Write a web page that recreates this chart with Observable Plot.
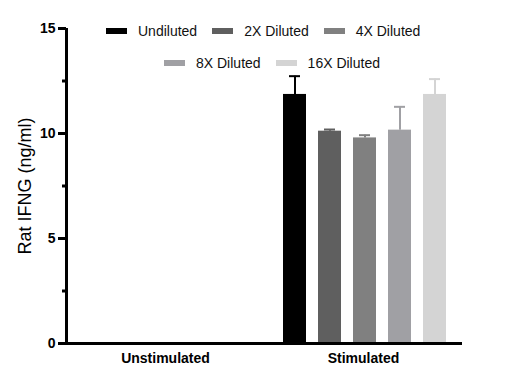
<!DOCTYPE html>
<html>
<head>
<meta charset="utf-8">
<script src="https://cdn.jsdelivr.net/npm/d3@7"></script>
<script src="https://cdn.jsdelivr.net/npm/@observablehq/plot@0.6"></script>
<style>
  body { margin: 0; background: white; }
  #wrap { position: relative; width: 506px; height: 380px; font-family: "Liberation Sans", Arial, sans-serif; }
  .lrow { position: absolute; display: flex; align-items: center; height: 16px; font-size: 14px; color: #111; white-space: nowrap; }
  .item { display: flex; align-items: center; margin-right: 15px; }
  .sw { display: inline-block; width: 21px; height: 6px; margin-right: 11px; }
</style>
</head>
<body>
<div id="wrap"></div>
<script>
const groups = ["Unstimulated", "Stimulated"];
const dilutions = ["Undiluted", "2X Diluted", "4X Diluted", "8X Diluted", "16X Diluted"];
const colors = ["#000000", "#5f5f5f", "#808080", "#a0a0a4", "#d4d4d4"];
const unstimulatedMean = [0, 0, 0, 0, 0];
const unstimulatedErr = [0, 0, 0, 0, 0];
const stimulatedMean = [11.86, 10.11, 9.79, 10.16, 11.86];
const stimulatedErr = [0.87, 0.08, 0.13, 1.11, 0.73];
const majorTicks = [0, 5, 10, 15];
const minorTicks = [2.5, 7.5, 12.5];
const yLabel = "Rat IFNG (ng/ml)";
const legendRows = [[0, 1, 2], [3, 4]];

const means = [unstimulatedMean, stimulatedMean];
const errs = [unstimulatedErr, stimulatedErr];
const data = groups.flatMap((g, gi) => dilutions.map((d, i) => ({group: g, dilution: d, mean: means[gi][i], err: errs[gi][i]})));
const errData = data.filter(d => d.mean > 0);

const chart = Plot.plot({
  width: 506, height: 380,
  marginLeft: 66, marginRight: 44, marginTop: 28, marginBottom: 37,
  fx: {domain: groups, padding: 0, label: null, axis: null},
  x: {domain: dilutions, paddingInner: 0.33, paddingOuter: 0.43, align: 0.55, axis: null},
  y: {domain: [0, 15], axis: null},
  color: {domain: dilutions, range: colors},
  style: {fontFamily: "'Liberation Sans', Arial, sans-serif", background: "white", color: "black"},
  marks: [
    Plot.barY(data, {fx: "group", x: "dilution", y: "mean", fill: "dilution"}),
    Plot.ruleX(errData, {fx: "group", x: "dilution", y1: "mean", y2: d => d.mean + d.err, stroke: "dilution", strokeWidth: 2}),
    Plot.tickY(errData, {fx: "group", x: "dilution", y: d => d.mean + d.err, stroke: "dilution", strokeWidth: 2, insetLeft: 6, insetRight: 6}),
    Plot.ruleY([0], {strokeWidth: 3}),
    Plot.axisY(majorTicks, {tickSize: 8, tickPadding: 3, strokeWidth: 3, fontSize: 14, fontWeight: "bold", label: null}),
    Plot.axisY(minorTicks, {tickSize: 4, strokeWidth: 3, tickFormat: () => "", label: null}),
    Plot.axisFx({anchor: "bottom", tickSize: 0, tickPadding: 10, fontSize: 14, fontWeight: "bold", label: null}),
    Plot.text([{group: groups[0], t: yLabel}], {fx: "group", text: "t", frameAnchor: "left", textAnchor: "middle", rotate: -90, dx: -41, fontSize: 18})
  ]
});

// y-axis domain line, derived from the plot's scales
const fxS = chart.scale("fx"), yS = chart.scale("y");
d3.select(chart).append("line")
  .attr("x1", fxS.range[0] + 0.5).attr("x2", fxS.range[0] + 0.5)
  .attr("y1", Math.min(...yS.range)).attr("y2", Math.max(...yS.range) + 1.5)
  .attr("stroke", "black").attr("stroke-width", 3);

const wrap = document.getElementById("wrap");
wrap.appendChild(chart);

const rowPos = [{left: 106, top: 23}, {left: 164, top: 55}];
legendRows.forEach((row, ri) => {
  const div = document.createElement("div");
  div.className = "lrow";
  div.style.left = rowPos[ri].left + "px";
  div.style.top = rowPos[ri].top + "px";
  row.forEach(i => {
    const it = document.createElement("span");
    it.className = "item";
    const sw = document.createElement("span");
    sw.className = "sw";
    sw.style.background = colors[i];
    const tx = document.createElement("span");
    tx.textContent = dilutions[i];
    it.appendChild(sw); it.appendChild(tx);
    div.appendChild(it);
  });
  wrap.appendChild(div);
});
</script>
</body>
</html>
